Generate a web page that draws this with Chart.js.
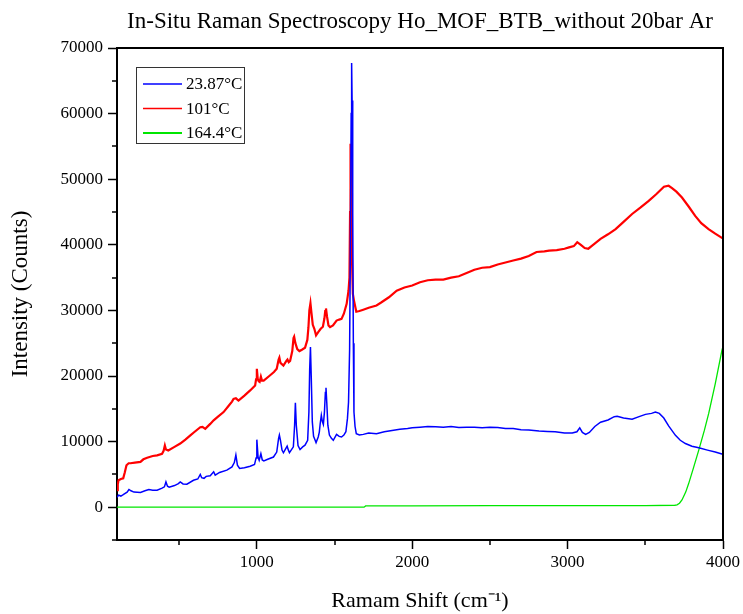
<!DOCTYPE html>
<html>
<head>
<meta charset="utf-8">
<script src="https://cdn.jsdelivr.net/npm/chart.js@4.4.0/dist/chart.umd.min.js"></script>
<style>
  html, body { margin: 0; padding: 0; background: #fff; }
  #wrap { width: 743px; height: 614px; }
</style>
</head>
<body>
<div id="wrap"><canvas id="chart" width="743" height="614"></canvas></div>
<script>
/* In-situ Raman spectra */

const SERIES_LABELS = ['23.87°C', '101°C', '164.4°C'];
const SERIES_COLORS = ['#0000ff', '#ff0000', '#00e600'];

// 23.87 °C
const shiftBlue = [100,110,125,140,165,177,190,209,251,280,305,330,358,390,405,415,425,436,470,495,507,525,550,592,620,636,645,660,674,700,722,732,760,807,840,855,865,875,889,920,957,985,995,1000,1008,1015,1026,1035,1045,1070,1107,1128,1140,1145,1152,1162,1171,1185,1195,1203,1210,1235,1243,1248,1254,1265,1278,1295,1310,1327,1335,1340,1345,1350,1357,1365,1372,1381,1395,1402,1408,1415,1422,1428,1435,1441,1445,1450,1457,1467,1480,1492,1513,1530,1545,1560,1573,1583,1590,1597,1602,1607,1610,1613,1617,1621,1625,1632,1640,1660,1685,1720,1770,1820,1870,1920,1970,2000,2050,2100,2150,2200,2250,2300,2350,2400,2450,2500,2550,2600,2650,2700,2750,2816,2870,2920,2980,3030,3060,3078,3095,3116,3140,3175,3212,3260,3300,3319,3360,3415,3460,3501,3540,3565,3590,3619,3650,3694,3725,3758,3800,3844,3900,3950,3993,4000];
const countsBlue = [1500,1850,1700,1900,2300,2700,2500,2300,2250,2500,2700,2600,2600,2900,3100,3850,3200,3050,3300,3600,3850,3550,3500,4100,4300,5000,4500,4400,4700,4800,5400,4900,5300,5650,6150,6800,7950,6400,5900,6000,6250,6500,7500,10300,7600,7150,8150,7200,7050,7300,7650,8400,10500,11000,10200,8700,8300,8900,9300,8700,8300,9200,12500,15900,12500,9400,8800,9200,9450,10200,14500,21000,24400,20000,13000,10800,10400,9850,10700,11450,12800,14000,13000,12600,14500,17500,18200,16000,12500,11000,10500,10200,11100,10800,10700,11000,11500,13500,16000,24000,40000,60000,67700,62000,45000,25000,14500,12300,11200,11000,11100,11300,11200,11500,11700,11900,12000,12100,12200,12300,12250,12200,12300,12150,12200,12200,12100,12200,12150,12000,12000,11800,11750,11600,11550,11500,11300,11300,11500,12100,11400,11100,11400,12300,12950,13300,13800,13850,13600,13400,13800,14150,14300,14500,14300,13600,12400,10950,10200,9700,9300,9050,8700,8400,8100,8050];

// 101 °C
const shiftRed = [100,105,110,125,140,150,161,175,187,215,251,270,294,330,358,390,400,408,415,430,470,507,540,572,600,636,650,668,700,722,750,786,820,840,850,865,882,920,957,989,995,1000,1006,1012,1018,1026,1033,1044,1080,1110,1128,1140,1145,1152,1171,1190,1197,1205,1214,1228,1236,1240,1248,1260,1274,1290,1310,1325,1332,1338,1345,1352,1360,1370,1381,1395,1411,1425,1435,1440,1445,1452,1461,1471,1490,1513,1530,1545,1560,1578,1590,1596,1600,1603,1607,1612,1618,1625,1640,1660,1685,1720,1770,1800,1850,1900,1950,2000,2050,2100,2150,2200,2250,2300,2350,2400,2450,2500,2550,2600,2650,2700,2750,2800,2850,2881,2930,2980,3009,3040,3062,3085,3110,3133,3160,3212,3260,3309,3360,3415,3470,3522,3570,3620,3650,3672,3700,3736,3780,3821,3860,3907,3950,3993,4000];
const countsRed = [2600,3500,4100,4300,4400,5300,6400,6700,6700,6800,6900,7300,7550,7800,7900,8150,8600,9400,8800,8650,9200,9700,10300,10950,11500,12200,12250,11950,12700,13250,13800,14500,15500,16100,16500,16600,16250,17000,17800,18550,19500,21100,19500,19200,19100,19900,19300,19300,20000,20600,21100,22500,22800,22000,21600,22300,22500,22100,22300,23800,25800,26000,25000,24100,23800,24000,24300,25500,27400,30000,31100,29500,27800,27200,26200,26700,27200,27500,28800,29900,30300,29000,27700,27450,27700,28450,28600,28700,29500,31000,33000,35000,45000,55400,48000,38000,32500,31500,29800,29900,30100,30400,30750,31200,32000,33000,33500,33800,34300,34600,34700,34700,35000,35200,35700,36200,36500,36600,37000,37300,37600,37900,38300,38900,39000,39100,39200,39400,39600,39800,40400,40000,39500,39400,39900,40900,41600,42400,43500,44700,45700,46700,47700,48850,49000,48650,48100,47200,45800,44400,43300,42400,41700,41050,40950];

// 164.4 °C
const shiftGreen = [100,500,1000,1500,1690,1700,2000,2500,3000,3500,3690,3704,3720,3736,3760,3779,3810,3844,3880,3908,3950,3993,4000];
const countsGreen = [0,0,0,0,0,200,200,250,250,250,300,350,600,1100,2300,3600,6000,8700,11700,14300,18800,23900,24500];

const X_MIN = 100, X_MAX = 4000, X_STEP = 500, X_LABEL_EVERY = 1000;
const Y_MIN = -5000, Y_MAX = 70000, Y_STEP = 5000, Y_LABEL_EVERY = 10000;

const SERIF = "'Liberation Serif', 'Times New Roman', serif";

function toPoints(xs, ys) {
  return xs.map((x, i) => ({ x, y: ys[i] }));
}

// tick values on multiples of the step inside [min, max]
function stepTicks(min, max, step) {
  const out = [];
  for (let v = Math.ceil(min / step) * step; v <= max; v += step) out.push({ value: v });
  return out;
}

// top/right frame, short minor ticks, boxed legend
const framePlugin = {
  id: 'frame',
  afterDraw(chart) {
    const { ctx, chartArea: a, scales } = chart;
    ctx.save();
    ctx.strokeStyle = '#000';
    ctx.lineWidth = 2;
    ctx.beginPath();
    ctx.moveTo(a.left, a.top);
    ctx.lineTo(a.right, a.top);
    ctx.lineTo(a.right, a.bottom);
    ctx.stroke();

    ctx.lineWidth = 1.5;
    ctx.beginPath();
    scales.x.ticks.forEach(t => {
      if (t.value % X_LABEL_EVERY !== 0) {
        const px = Math.round(scales.x.getPixelForValue(t.value));
        ctx.moveTo(px, a.bottom);
        ctx.lineTo(px, a.bottom + 5);
      }
    });
    scales.y.ticks.forEach(t => {
      if (t.value % Y_LABEL_EVERY !== 0) {
        const py = Math.round(scales.y.getPixelForValue(t.value));
        ctx.moveTo(a.left - 5, py);
        ctx.lineTo(a.left, py);
      }
    });
    ctx.stroke();

    // legend
    const bx = 136, by = 67, bw = 108, bh = 76;
    ctx.fillStyle = '#fff';
    ctx.fillRect(bx, by, bw, bh);
    ctx.strokeStyle = '#333';
    ctx.lineWidth = 1;
    ctx.strokeRect(bx + 0.5, by + 0.5, bw, bh);
    ctx.font = '17px ' + SERIF;
    ctx.textBaseline = 'middle';
    chart.data.datasets.forEach((ds, i) => {
      const y = by + 17 + i * 24.5;
      ctx.strokeStyle = ds.borderColor;
      ctx.lineWidth = i === 2 ? 2 : 1.3;
      ctx.beginPath();
      ctx.moveTo(bx + 7, y);
      ctx.lineTo(bx + 46, y);
      ctx.stroke();
      ctx.fillStyle = '#000';
      ctx.fillText(ds.label, bx + 50, y + 1);
    });
    ctx.restore();
  }
};

new Chart(document.getElementById('chart'), {
  type: 'line',
  data: {
    datasets: [
      { label: SERIES_LABELS[0], data: toPoints(shiftBlue, countsBlue), borderColor: SERIES_COLORS[0], borderWidth: 1.5 },
      { label: SERIES_LABELS[1], data: toPoints(shiftRed, countsRed), borderColor: SERIES_COLORS[1], borderWidth: 2.2 },
      { label: SERIES_LABELS[2], data: toPoints(shiftGreen, countsGreen), borderColor: SERIES_COLORS[2], borderWidth: 1.3 },
    ],
  },
  options: {
    responsive: false,
    animation: false,
    parsing: false,
    elements: {
      point: { radius: 0 },
      line: { tension: 0, fill: false },
    },
    layout: { padding: { left: 0, right: 19, top: 0, bottom: 0 } },
    plugins: {
      legend: { display: false },
      tooltip: { enabled: false },
      title: {
        display: true,
        fullSize: false,
        text: 'In-Situ Raman Spectroscopy Ho_MOF_BTB_without 20bar Ar',
        color: '#000',
        font: { family: SERIF, size: 23, weight: 'normal', lineHeight: 1 },
        padding: { top: 10, bottom: 15 },
      },
    },
    scales: {
      x: {
        type: 'linear',
        min: X_MIN,
        max: X_MAX,
        afterFit: s => { s.height = 74; },
        afterBuildTicks: s => { s.ticks = stepTicks(X_MIN, X_MAX, X_STEP); },
        border: { display: true, color: '#000', width: 2 },
        grid: {
          drawOnChartArea: false,
          drawTicks: true,
          tickLength: 9,
          tickWidth: 1.5,
          tickColor: c => (c.tick && c.tick.value % X_LABEL_EVERY === 0 ? '#000' : 'rgba(0,0,0,0)'),
        },
        ticks: {
          padding: 3,
          color: '#000',
          maxRotation: 0,
          autoSkip: false,
          font: { family: SERIF, size: 17 },
          callback: v => (v % X_LABEL_EVERY === 0 ? String(v) : ''),
        },
        title: {
          display: true,
          text: 'Ramam Shift (cm⁻¹)',
          color: '#000',
          font: { family: SERIF, size: 22, lineHeight: 1 },
          padding: { top: 0, bottom: 2 },
        },
      },
      y: {
        type: 'linear',
        min: Y_MIN,
        max: Y_MAX,
        afterFit: s => { s.width = 117; },
        afterBuildTicks: s => { s.ticks = stepTicks(Y_MIN, Y_MAX, Y_STEP); },
        border: { display: true, color: '#000', width: 2 },
        grid: {
          drawOnChartArea: false,
          drawTicks: true,
          tickLength: 9,
          tickWidth: 1.5,
          tickColor: c => (c.tick && c.tick.value % Y_LABEL_EVERY === 0 ? '#000' : 'rgba(0,0,0,0)'),
        },
        ticks: {
          padding: 5,
          color: '#000',
          autoSkip: false,
          font: { family: SERIF, size: 17 },
          callback: v => (v % Y_LABEL_EVERY === 0 ? String(v) : ''),
        },
        title: {
          display: true,
          text: 'Intensity (Counts)',
          color: '#000',
          font: { family: SERIF, size: 23, lineHeight: 1 },
          padding: { top: 9, bottom: 0 },
        },
      },
    },
  },
  plugins: [framePlugin],
});
</script>
</body>
</html>
